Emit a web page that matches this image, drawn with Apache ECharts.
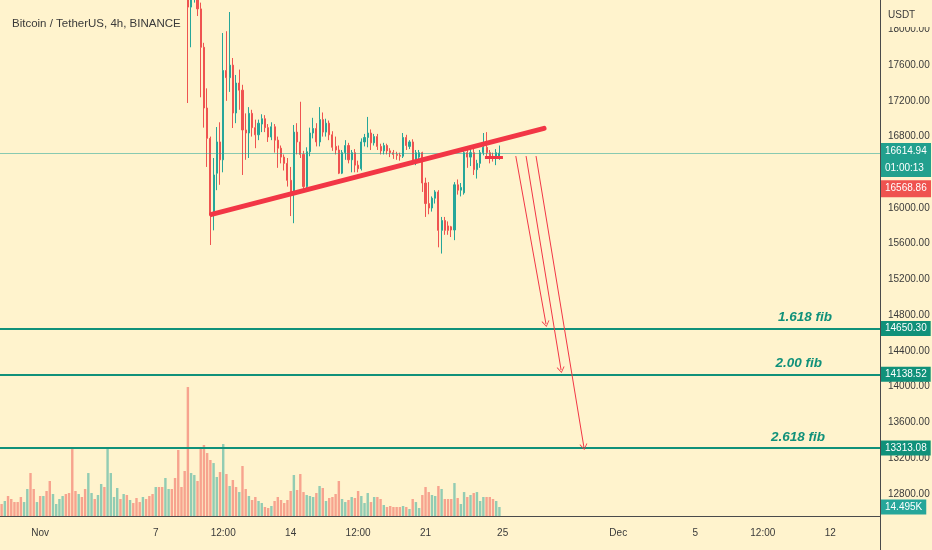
<!DOCTYPE html>
<html><head><meta charset="utf-8">
<script src="https://cdn.jsdelivr.net/npm/echarts/dist/echarts.min.js"></script>
<style>html,body{margin:0;padding:0;background:#fff3cd}#c{width:932px;height:550px}</style>
</head><body><div id="c"></div><script>
// ---------------- DATA ----------------
const title = 'Bitcoin / TetherUS, 4h, BINANCE';
const currency = 'USDT';
const slotCount = 274;                 // 4h slots shown on the x axis
const firstSlot = '2022-10-30T00:00';  // first 4h slot (UTC)
const tickDates = ['2022-11-01T00:00','2022-11-07T00:00','2022-11-10T12:00','2022-11-14T00:00','2022-11-17T12:00','2022-11-21T00:00','2022-11-25T00:00','2022-12-01T00:00','2022-12-05T00:00','2022-12-08T12:00','2022-12-12T00:00'];
const tickLabels = ['Nov','7','12:00','14','12:00','21','25','Dec','5','12:00','12'];

// volume (thousands), one per 4h bar from firstSlot
const volumeK = [19.3,24.2,32.2,27.4,22.5,22.5,30.6,22.5,43.5,69.2,43.5,22.5,32.2,32.2,40.3,56.4,35.4,19.3,27.4,32.2,
35.4,37.0,109.5,40.3,35.4,30.6,43.5,69.2,37.0,27.4,33.8,51.5,46.7,109.5,69.2,30.6,45.1,27.4,35.4,33.8,
25.8,20.9,29.0,22.5,30.6,27.4,32.2,35.4,46.7,46.7,46.7,61.2,43.5,43.5,61.2,106.3,46.7,72.5,207.7,69.2,
66.0,56.4,109.5,114.3,101.4,90.2,85.3,62.8,70.8,115.9,67.6,48.3,58.0,46.7,38.6,80.5,43.5,32.2,25.8,30.6,
24.2,20.9,14.5,12.9,16.1,24.2,30.6,25.8,20.9,25.8,40.3,66.0,41.9,67.6,38.6,33.8,32.2,30.6,37.0,48.3,
45.1,24.2,29.0,30.6,35.4,56.4,27.4,22.5,25.8,30.6,29.0,40.3,32.2,20.9,37.0,22.5,30.6,30.6,27.4,17.7,
14.5,16.1,14.5,14.5,14.5,16.1,14.5,11.3,27.4,22.5,12.9,33.8,46.7,38.6,33.8,32.2,48.3,43.5,27.4,27.4,
27.4,53.1,29.0,19.3,38.6,30.6,33.8,37.0,38.6,24.2,30.6,30.6,30.6,27.4,24.2,14.495];
// 1 = up bar, 0 = down bar
const volumeUp = [0,1,0,0,0,0,0,1,1,0, 0,1,0,1,0,0,1,1,1,1, 0,0,0,0,1,0,0,1,1,0, 1,1,0,1,1,1,1,0,1,0,
1,0,0,0,1,0,0,0,1,0, 0,1,1,0,0,0,0,0,0,1, 1,0,0,0,0,0,1,1,0,1, 0,1,0,0,1,0,0,1,0,0,
1,1,0,0,1,0,0,0,0,0, 0,1,0,0,0,1,1,1,0,1, 0,1,0,0,0,0,1,1,0,1, 0,0,1,1,1,0,1,0,0,1,
0,0,0,0,0,1,0,1,0,1, 1,0,0,0,1,1,0,1,0,0, 0,1,0,1,1,0,1,0,1,1, 1,0,0,0,1,1];

// candles from candleStart (4h bars)
const candleStart = '2022-11-08T08:00';
const candleOpen = [19650,19500,18700,18250,18500,18560,18230,17800,17120,16780,15920,16390,16740,16540,17540,17460,17600,17064,17400,17320,
16874,16840,17060,16900,16820,16940,17000,16900,16795,16910,16760,16670,16570,16500,16310,16150,16850,16740,16600,16240,
16630,16840,16890,16740,16990,16850,16950,16820,16690,16650,16390,16620,16700,16540,16620,16480,16440,16740,16790,16840,
16730,16800,16690,16640,16700,16640,16620,16600,16590,16580,16790,16690,16740,16510,16570,16620,16280,16050,16000,16110,
16180,15750,15860,15800,15790,15754,16260,16200,16170,16620,16570,16620,16430,16500,16620,16680,16620,16580,16560,16580];
const candleClose = [19500,18700,18250,18500,18560,18230,17800,17120,16780,15920,16370,16740,16540,17540,17460,17600,17064,17400,17320,16874,
16840,17060,16900,16820,16950,17000,16900,16795,16910,16760,16670,16570,16500,16310,16150,16850,16740,16600,16240,16630,
16840,16890,16740,16990,16850,16950,16820,16680,16650,16390,16620,16700,16540,16620,16480,16440,16740,16790,16840,16730,
16800,16690,16640,16700,16640,16620,16600,16590,16580,16790,16700,16740,16510,16620,16620,16280,16050,16000,16110,16180,
15750,15860,15750,15750,15754,16260,16200,16230,16620,16570,16620,16430,16500,16620,16680,16620,16580,16560,16620,16614.94];
const candleLow = [19380,18600,17176,17800,18300,18150,17240,16900,16460,15586,15750,16200,16260,16400,17200,17300,16896,16950,17100,16370,
16540,16560,16800,16670,16760,16850,16850,16740,16760,16620,16450,16500,16420,16240,15910,15830,16600,16560,16200,16200,
16580,16780,16690,16690,16800,16800,16760,16640,16600,16380,16380,16540,16500,16400,16400,16400,16420,16690,16680,16650,
16700,16650,16600,16600,16600,16570,16550,16540,16530,16560,16650,16660,16490,16480,16540,16180,15900,15930,15960,16050,
15560,15490,15700,15700,15675,15640,16150,16130,16150,16450,16470,16370,16330,16450,16590,16580,16500,16520,16480,16540];
const candleHigh = [19720,19560,18760,18560,18620,18600,18300,17850,17340,16800,16560,16907,16960,17960,17980,18195,17680,17490,17550,17380,
17060,17130,17100,16990,16990,17050,17040,16940,16960,16940,16800,16700,16600,16560,16460,16930,16950,17190,16640,16680,
16900,17010,16950,17130,17070,17000,16980,16860,16800,16700,16650,16760,16730,16650,16660,16530,16780,16830,17020,16880,
16830,16830,16720,16730,16720,16670,16650,16630,16620,16840,16820,16760,16770,16650,16650,16630,16340,16290,16130,16200,
16200,15900,15900,15850,15800,16290,16320,16280,16640,16680,16680,16690,16540,16650,16840,16850,16650,16620,16660,16700];

const lastPrice = 16614.94;
const countdown = '01:00:13';
const levelPrice = 16568.86;
const levelFrom = '2022-11-24T02:00', levelTo = '2022-11-25T00:24';
const fibPrices = [14650.30, 14138.52, 13313.08];
const fibNames = ['1.618 fib', '2.00 fib', '2.618 fib'];
const fibTextEnd = ['2022-12-12T07:12', '2022-12-11T18:48', '2022-12-11T22:24'];
const trendStart = ['2022-11-09T21:36', 15929];
const trendEnd = ['2022-11-27T03:36', 16892];
const arrowStarts = [['2022-11-25T16:24', 16582], ['2022-11-26T05:12', 16582], ['2022-11-26T17:36', 16582]];
const arrowEnds = [['2022-11-27T06:00', 14701], ['2022-11-28T00:48', 14186], ['2022-11-29T05:12', 13324]];

// ---------------- STYLE ----------------
const BG = '#fff3cd';
const FONT = "'Liberation Sans',Arial,sans-serif";
const UP = '#26a69a', DOWN = '#ef5350';
const FIB = '#10917a';
const TXT = '#3a3a3a';
const RED = '#f23645';
const CLEAR = {color: 'rgba(0,0,0,0)', width: 0};

const H = 3600e3;
const t = s => Date.parse(s + ':00Z');
const t0 = t(firstSlot);
const categories = Array.from({length: slotCount}, (_, i) => new Date(t0 + i * 4 * H).toISOString().slice(0, 16));
const cStart = categories.indexOf(candleStart);
const candleData = categories.map((_, i) => {
  const k = i - cStart;
  return (k >= 0 && k < candleOpen.length) ? [candleOpen[k], candleClose[k], candleLow[k], candleHigh[k]] : '-';
});
const volData = categories.map((_, i) => i < volumeK.length ? {
  value: volumeK[i],
  itemStyle: {color: volumeUp[i] ? 'rgba(38,166,154,0.5)' : 'rgba(239,83,80,0.5)'}
} : '-');
const lastVol = volumeK[volumeK.length - 1];

const arrowHead = 'path://M5,0 L10,10 L8.8,10 L5,2.2 L1.2,10 L0,10 Z';
const boxText = {color: '#ffffff', fontSize: 10, fontFamily: FONT};

const drawMarks = [];
// fib lines with axis boxes
fibPrices.forEach(p => drawMarks.push({
  yAxis: p,
  lineStyle: {color: FIB, width: 2, type: 'solid'},
  label: {show: true, position: 'end', distance: 1, formatter: p.toFixed(2), backgroundColor: FIB, padding: [3, 4, 2, 4], ...boxText}
}));
// fib texts
fibPrices.forEach((p, i) => drawMarks.push([
  {coord: [t(firstSlot), p], lineStyle: CLEAR, label: {show: true, position: 'insideEndTop', distance: 4, formatter: fibNames[i], color: FIB, fontSize: 13.5, fontStyle: 'italic', fontWeight: 'bold', fontFamily: FONT}},
  {coord: [t(fibTextEnd[i]), p]}
]));
// last price line
drawMarks.push({
  yAxis: lastPrice,
  lineStyle: {color: UP, width: 1, type: 'solid', opacity: 0.55},
  label: {show: true, position: 'end', distance: 1, verticalAlign: 'middle', align: 'left', opacity: 1,
    formatter: '{e| }\n{p|' + lastPrice.toFixed(2) + '}\n{p|' + countdown + '}',
    rich: {e: {lineHeight: 14, height: 14}, p: {backgroundColor: '#22a08e', width: 42, padding: [0, 4], lineHeight: 17, height: 17, ...boxText}}}
});
// level label
drawMarks.push({
  yAxis: levelPrice,
  lineStyle: CLEAR,
  label: {show: true, position: 'end', distance: 1, verticalAlign: 'top', align: 'left',
    formatter: '{e| }\n{r|' + levelPrice.toFixed(2) + '}',
    rich: {e: {lineHeight: 23, height: 23}, r: {backgroundColor: DOWN, width: 42, padding: [0, 4], lineHeight: 17, height: 17, ...boxText}}}
});
// level short segment
drawMarks.push([{coord: [t(levelFrom), levelPrice], lineStyle: {color: RED, width: 3, type: 'solid'}}, {coord: [t(levelTo), levelPrice]}]);
// trend line
drawMarks.push([{coord: [t(trendStart[0]), trendStart[1]], lineStyle: {color: RED, width: 5, type: 'solid', cap: 'round'}}, {coord: [t(trendEnd[0]), trendEnd[1]]}]);
// arrows
arrowStarts.forEach((s, i) => drawMarks.push([
  {coord: [t(s[0]), s[1]], symbol: 'none', lineStyle: {color: RED, width: 1, type: 'solid'}},
  {coord: [t(arrowEnds[i][0]), arrowEnds[i][1]], symbol: arrowHead, symbolSize: [8, 6]}
]));

const chart = echarts.init(document.getElementById('c'), null, {renderer: 'canvas'});
chart.setOption({
  animation: false,
  backgroundColor: BG,
  textStyle: {fontFamily: FONT},
  title: {text: title, left: 7, top: 13, textStyle: {fontSize: 11.5, fontWeight: 'normal', color: TXT, fontFamily: FONT}},
  grid: [
    {left: 0, right: 52, top: -6.3, bottom: 20.5, outerBoundsMode: 'none', containLabel: false},
    {left: 0, right: 52, top: 0, bottom: 34, outerBoundsMode: 'none', containLabel: false},
    {left: 0, right: 52, top: 0, bottom: 0, outerBoundsMode: 'none', containLabel: false}
  ],
  xAxis: [
    {type: 'category', gridIndex: 0, data: categories, show: false},
    {type: 'category', gridIndex: 1, data: categories,
      axisLine: {onZero: false, lineStyle: {color: '#4a4a4a', width: 1}}, axisTick: {show: false},
      axisLabel: {color: TXT, fontSize: 10, fontFamily: FONT, margin: 12,
        interval: (idx, val) => tickDates.includes(val),
        formatter: val => tickLabels[tickDates.indexOf(val)] || ''},
      splitLine: {show: false}},
    {type: 'time', gridIndex: 0, show: false, min: t0 - 2 * H, max: t0 + (slotCount * 4 - 2) * H},
    {type: 'value', gridIndex: 2, show: false, min: 0, max: 1, axisLine: {show: false, onZero: false}}
  ],
  yAxis: [
    {type: 'value', gridIndex: 0, position: 'right', min: 12400, max: 18400, interval: 400, scale: true,
      axisLine: {show: false, onZero: false}, axisTick: {show: false}, splitLine: {show: false},
      axisLabel: {color: TXT, fontSize: 10, fontFamily: FONT, margin: 8,
        formatter: v => (v >= 12800 && v <= 18000) ? v.toFixed(2) : ''}},
    {type: 'value', gridIndex: 1, show: false, min: 0, max: 831, axisLine: {show: false, onZero: false}},
    {type: 'value', gridIndex: 2, position: 'right', min: 0, max: 1,
      axisLine: {show: true, onZero: false, lineStyle: {color: '#4a4a4a', width: 1}}, axisTick: {show: false},
      axisLabel: {show: false}, splitLine: {show: false}}
  ],
  graphic: [
    {type: 'rect', left: 881, top: 0, shape: {width: 51, height: 27}, style: {fill: BG}, z: 100},
    {type: 'text', left: 888, top: 10, style: {text: currency, fill: TXT, font: '10px ' + FONT}, z: 101}
  ],
  series: [
    {type: 'bar', name: 'Volume', xAxisIndex: 1, yAxisIndex: 1, data: volData, barWidth: '75%', z: 1,
      markLine: {silent: true, symbol: 'none', animation: false, data: [{
        yAxis: lastVol, lineStyle: CLEAR,
        label: {show: true, position: 'end', distance: 1, formatter: lastVol.toFixed(3) + 'K', backgroundColor: UP, padding: [3, 4, 2, 4], ...boxText}
      }]}},
    {type: 'candlestick', name: 'BTCUSDT', xAxisIndex: 0, yAxisIndex: 0, data: candleData, barWidth: '50%', z: 3,
      itemStyle: {color: UP, color0: DOWN, borderColor: UP, borderColor0: DOWN, borderWidth: 1}},
    {type: 'line', name: 'drawings', xAxisIndex: 2, yAxisIndex: 0, data: [], z: 5,
      markLine: {silent: true, symbol: 'none', animation: false, label: {show: false}, data: drawMarks}}
  ]
});
</script></body></html>
